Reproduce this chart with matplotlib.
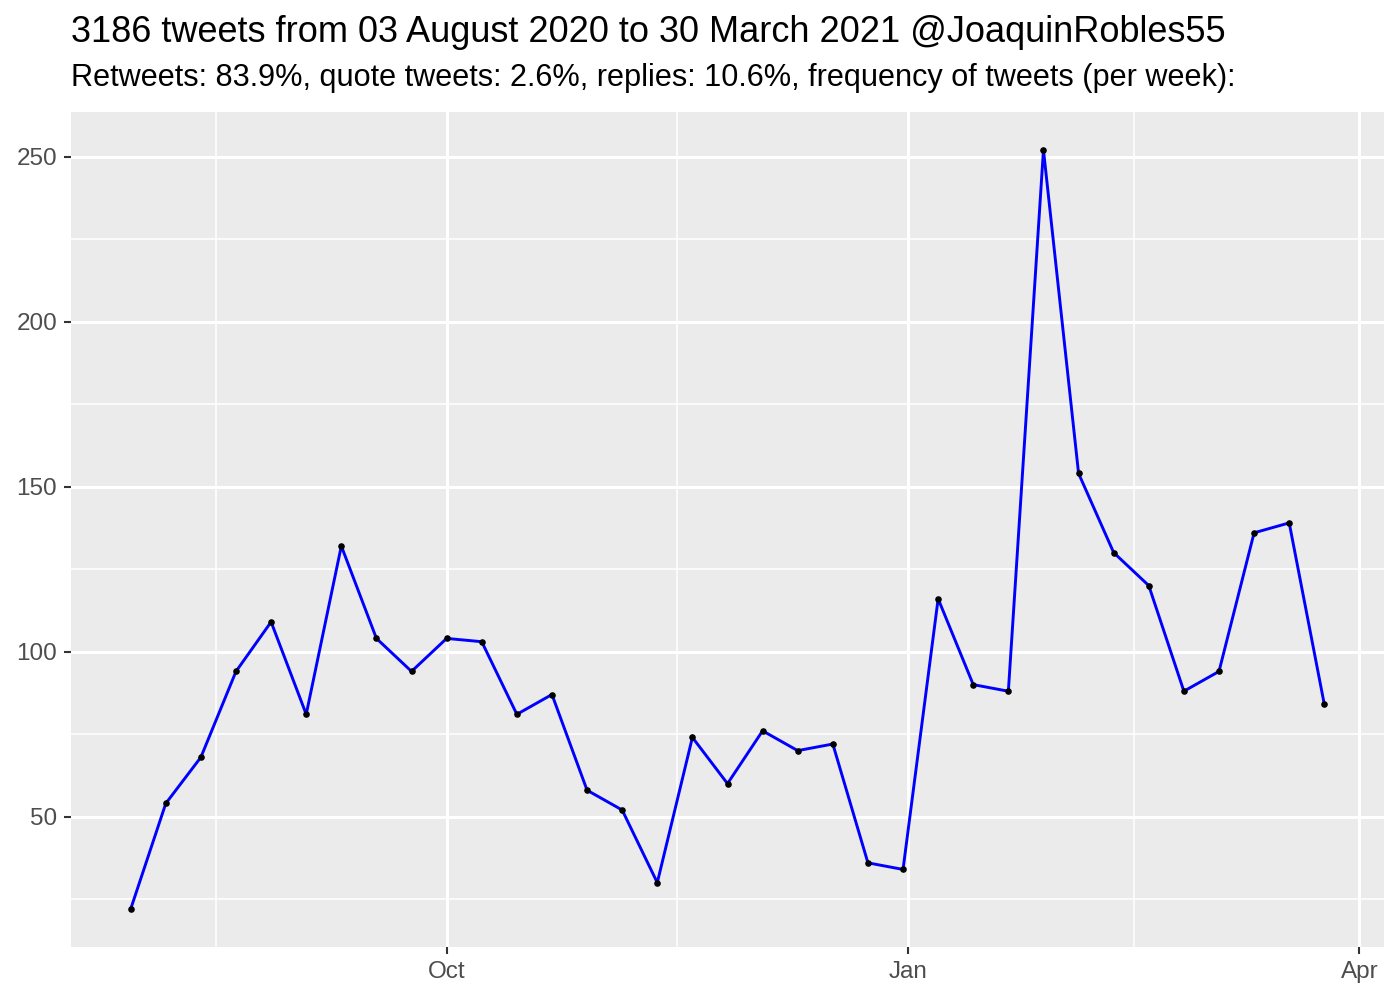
import matplotlib.pyplot as plt
import matplotlib.dates as mdates
import numpy as np
import datetime as dt

plt.rcParams['font.family'] = ['Liberation Sans', 'DejaVu Sans']

# weekly tweet counts, weeks starting 30 July 2020
start = dt.date(2020, 7, 30)
weeks = [start + dt.timedelta(days=7 * i) for i in range(35)]
counts = [22, 54, 68, 94, 109, 81, 132, 104, 94, 104, 103, 81, 87, 58, 52, 30,
          74, 60, 76, 70, 72, 36, 34, 116, 90, 88, 252, 154, 130, 120, 88, 94,
          136, 139, 84]

title = "3186 tweets from 03 August 2020 to 30 March 2021 @JoaquinRobles55"
subtitle = ("Retweets: 83.9%, quote tweets: 2.6%, replies: 10.6%, "
            "frequency of tweets (per week):")

major_dates = [dt.date(2020, 10, 1), dt.date(2021, 1, 1), dt.date(2021, 4, 1)]
major_labels = ["Oct", "Jan", "Apr"]
minor_dates = [dt.date(2020, 8, 16), dt.date(2020, 11, 16), dt.date(2021, 2, 15)]

fig = plt.figure(figsize=(14, 10), dpi=100)
ax = fig.add_axes([71 / 1400, 1 - 947 / 1000, (1384 - 71) / 1400, (947 - 112) / 1000])
ax.set_facecolor('#EBEBEB')

ax.plot(weeks, counts, color='#0000FF', lw=2.1, zorder=3)
ax.scatter(weeks, counts, s=14, color='black', zorder=4)

# ggplot-like expansion
x0 = mdates.date2num(weeks[0])
x1 = mdates.date2num(weeks[-1])
dx = (x1 - x0) * 0.05
ax.set_xlim(x0 - dx, x1 + dx)
dy = (max(counts) - min(counts)) * 0.05
ax.set_ylim(min(counts) - dy, max(counts) + dy)

ax.set_xticks([mdates.date2num(d) for d in major_dates])
ax.set_xticklabels(major_labels)
ax.set_xticks([mdates.date2num(d) for d in minor_dates], minor=True)
ax.set_yticks([50, 100, 150, 200, 250])
ax.set_yticks([25, 75, 125, 175, 225], minor=True)

ax.grid(which='major', color='white', lw=2.2, zorder=1)
ax.grid(which='minor', color='white', lw=1.1, zorder=1)
ax.set_axisbelow(True)
for s in ax.spines.values():
    s.set_visible(False)

ax.tick_params(which='major', length=5, width=1.5, color='#333333',
               labelcolor='#4D4D4D', labelsize=17.5, pad=5)
ax.tick_params(which='minor', length=0)

fig.text(71 / 1400, 1 - 33 / 1000, title, fontsize=26, va='center', ha='left')
fig.text(71 / 1400, 1 - 78 / 1000, subtitle, fontsize=22.1, va='center', ha='left')

fig.savefig('out.png', dpi=100)
